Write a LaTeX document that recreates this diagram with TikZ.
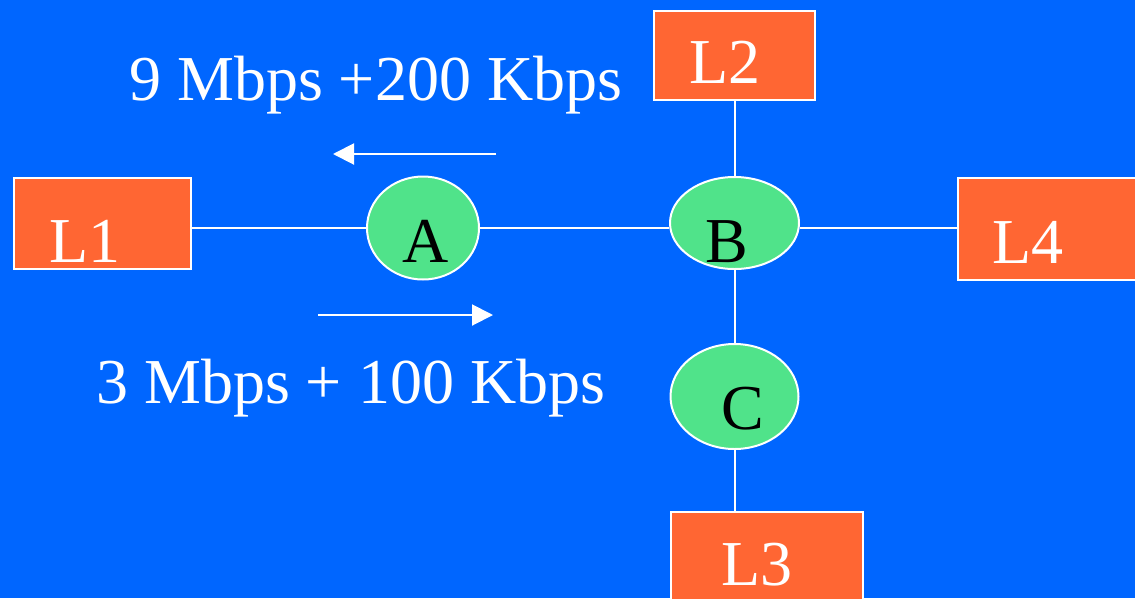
\documentclass[tikz,border=0pt]{standalone}
\usepackage{fontspec}
\setmainfont{Liberation Serif}
\usetikzlibrary{shapes.geometric,arrows.meta}
\definecolor{bgblue}{RGB}{0,102,255}
\definecolor{boxorange}{RGB}{255,102,51}
\definecolor{nodegreen}{RGB}{80,227,138}
\tikzset{
  lbox/.style={draw=white, line width=2pt, fill=boxorange, rectangle, inner sep=0pt},
  router/.style={draw=white, line width=2pt, fill=nodegreen, ellipse, inner sep=0pt},
  link/.style={draw=white, line width=2pt},
  flow/.style={draw=white, line width=2pt, -{Triangle[length=21pt,width=21pt]}},
  bigtxt/.style={anchor=base west, inner sep=0pt, font=\fontsize{64}{70}\selectfont},
  wtxt/.style={bigtxt, text=white},
  ktxt/.style={bigtxt, text=black}
}
\begin{document}
\begin{tikzpicture}[x=1pt,y=-1pt]
\fill[bgblue] (0,0) rectangle (1135,598);
\useasboundingbox (0,0) rectangle (1135,598);
% boxes
\node[lbox, minimum width=177pt, minimum height=91pt] (L1) at (102.5,223.5) {};
\node[lbox, minimum width=161pt, minimum height=89pt] (L2) at (734.5,55.5) {};
\node[lbox, minimum width=200pt, minimum height=102pt] (L4) at (1058,229) {};
\node[lbox, minimum width=192pt, minimum height=100pt] (L3) at (767,562) {};
% routers
\node[router, minimum width=112pt, minimum height=103pt] (A) at (423,228) {};
\node[router, minimum width=129pt, minimum height=92pt] (B) at (734.5,223) {};
\node[router, minimum width=128pt, minimum height=105pt] (C) at (734.5,396.5) {};
% links
\draw[link] (A.west -| L1.east) -- (A.west);
\draw[link] (A.east) -- (A.east -| B.west);
\draw[link] (A.east -| B.east) -- (A.east -| L4.west);
\draw[link] (L2.south) -- (B.north);
\draw[link] (B.south) -- (C.north);
\draw[link] (C.south) -- (C.south |- L3.north);
% labels
\node[wtxt] (tL1) at (49,262) {L1};
\node[wtxt] (tL2) at (689,83) {L2};
\node[wtxt] (tL4) at (992,263) {L4};
\node[wtxt] (tL3) at (721,585) {L3};
\node[ktxt] (tA) at (402,262) {A};
\node[ktxt] (tB) at (705,262) {B};
\node[ktxt] (tC) at (721,429) {C};
\node[wtxt] (rate1) at (129,100) {9 Mbps +200 Kbps};
\node[wtxt] (rate2) at (96,403) {3 Mbps + 100 Kbps};
% flow arrows
\coordinate (f1s) at (496,154);
\coordinate (f1e) at (333,154);
\coordinate (f2s) at (318,315);
\coordinate (f2e) at (493,315);
\draw[flow] (f1s) -- (f1e);
\draw[flow] (f2s) -- (f2e);
\end{tikzpicture}
\end{document}
